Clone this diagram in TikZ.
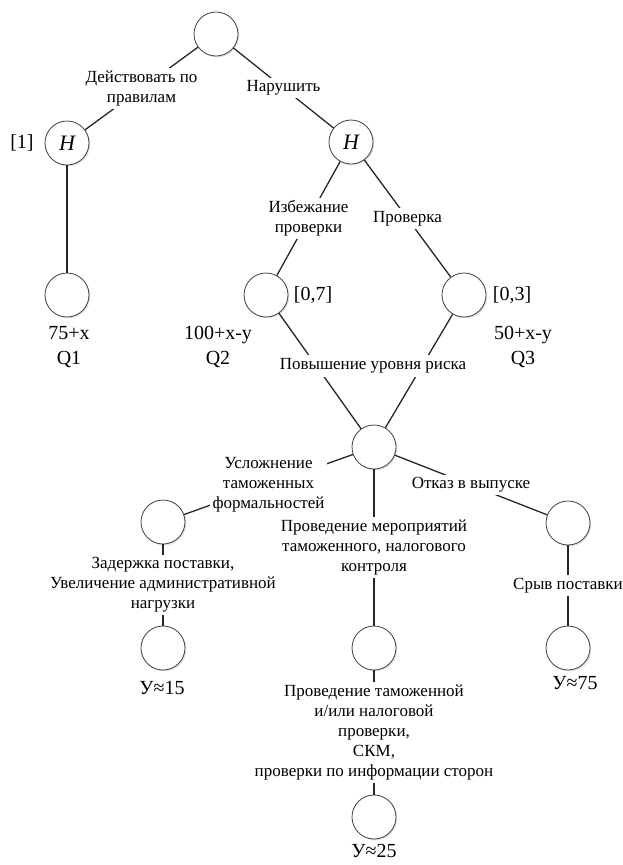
\documentclass[tikz,border=0pt]{standalone}
\usepackage{fontspec}
\setmainfont{Liberation Serif}
\usetikzlibrary{shadows}
\begin{document}
\begin{tikzpicture}[x=1pt,y=-1pt,
  st/.style={circle, draw=black!75, line width=0.8pt, minimum size=44pt, inner sep=0pt, fill=white,
    drop shadow={shadow xshift=1.3pt, shadow yshift=-1.3pt, opacity=0.35, fill=black!35}},
  hst/.style={st, font=\fontsize{22}{24}\selectfont\itshape},
  edge/.style={line width=1.3pt, draw=black!85},
  lbl/.style={font=\fontsize{17}{20}\selectfont, align=center, fill=white, inner sep=3pt, text=black},
  num/.style={font=\fontsize{20}{25}\selectfont, align=center, inner sep=0pt}]
\useasboundingbox (0,0) rectangle (623,865);
% nodes
\node[st] (top) at (216,34) {};
\node[hst] (hl) at (67,143) {H};
\node[hst] (hr) at (351,142) {H};
\node[st] (q1) at (67,295) {};
\node[st] (q2) at (266,295) {};
\node[st] (q3) at (464,295) {};
\node[st] (c) at (374,447) {};
\node[st] (l) at (163,522) {};
\node[st] (r) at (568,523) {};
\node[st] (lb) at (163,648) {};
\node[st] (m) at (374,648) {};
\node[st] (rb) at (568,648) {};
\node[st] (bb) at (374,817) {};
% edges
\draw[edge] (top) -- node[lbl] {Действовать по\\правилам} (hl);
\draw[edge] (top) -- node[lbl] {Нарушить} (hr);
\draw[edge] (hl) -- (q1);
\draw[edge] (hr) -- node[lbl] {Избежание\\проверки} (q2);
\draw[edge] (hr) -- node[lbl] {Проверка} (q3);
\draw[edge] (q2) -- (c);
\draw[edge] (q3) -- (c);
\node[lbl, inner sep=4pt] (risk) at (373,366) {Повышение уровня риска};
\draw[edge] (c) -- node[lbl] {Усложнение\\таможенных\\формальностей} (l);
\draw[edge] (c) -- node[lbl] {Проведение мероприятий\\таможенного, налогового\\контроля} (m);
\draw[edge] (c) -- node[lbl] {Отказ в выпуске} (r);
\draw[edge] (l) -- node[lbl] {Задержка поставки,\\Увеличение административной\\нагрузки} (lb);
\draw[edge] (r) -- node[lbl] {Срыв поставки} (rb);
\draw[edge] (m) -- node[lbl] {Проведение таможенной\\и/или налоговой\\проверки,\\СКМ,\\проверки по информации сторон} (bb);
% values
\node[num] (p1) at (22,143) {[1]};
\node[num] (p2) at (313,295) {[0,7]};
\node[num] (p3) at (512,295) {[0,3]};
\node[num] (v1) at (69,347) {75+x\\Q1};
\node[num] (v2) at (218,347) {100+x-y\\Q2};
\node[num] (v3) at (523,347) {50+x-y\\Q3};
\node[num] (u1) at (162,688) {У≈15};
\node[num] (u2) at (575,683) {У≈75};
\node[num] (u3) at (374,851) {У≈25};
\end{tikzpicture}
\end{document}
